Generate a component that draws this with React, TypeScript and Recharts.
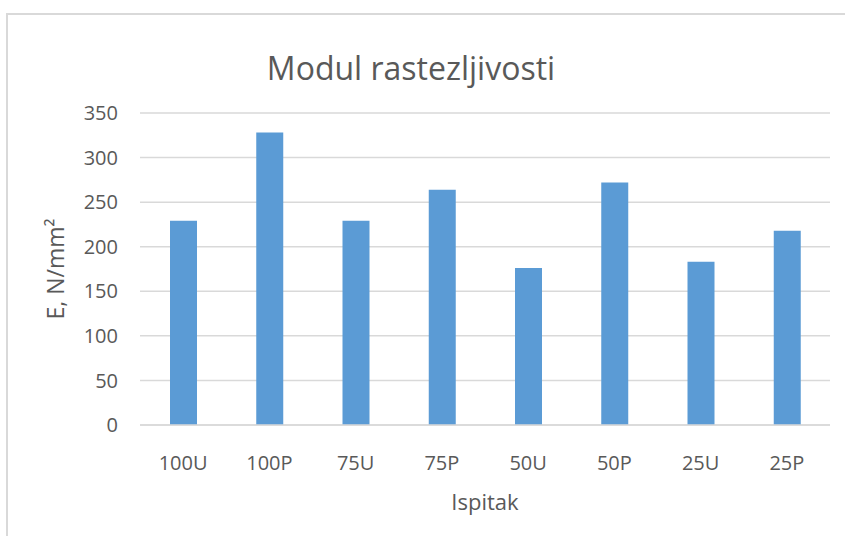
import React from 'react';
import { BarChart, Bar, XAxis, YAxis, CartesianGrid } from 'recharts';

const samples = ['100U', '100P', '75U', '75P', '50U', '50P', '25U', '25P'];
const modulus = [229, 328, 229, 264, 176, 272, 183, 218];
const yTicks = [0, 50, 100, 150, 200, 250, 300, 350];

const data = samples.map((name, i) => ({ name, E: modulus[i] }));

const FONT = '"Open Sans", sans-serif';
const GREY_TEXT = '#595959';
const GRID = '#d9d9d9';

const App: React.FC = () => {
  return (
    <div style={{ position: 'absolute', left: 0, top: 0, width: 845, height: 536, background: '#fff', overflow: 'hidden', fontFamily: FONT }}>
      {/* chart frame: only left and top edges are visible in the crop */}
      <div
        style={{
          position: 'absolute',
          left: 6,
          top: 13,
          width: 839,
          height: 523,
          borderLeft: `2px solid ${GRID}`,
          borderTop: `2px solid ${GRID}`,
          boxSizing: 'border-box',
        }}
      />
      <div
        style={{
          position: 'absolute',
          left: 0,
          width: 822,
          top: 46,
          textAlign: 'center',
          fontSize: 32,
          lineHeight: '44px',
          color: GREY_TEXT,
        }}
      >
        Modul rastezljivosti
      </div>
      <BarChart
        width={845}
        height={536}
        data={data}
        margin={{ top: 113, right: 15, left: 0, bottom: 0 }}
        style={{ position: 'absolute', left: 0, top: 0 }}
      >
        <CartesianGrid vertical={false} stroke={GRID} strokeWidth={1.5} />
        <XAxis
          dataKey="name"
          height={111}
          tickLine={false}
          axisLine={{ stroke: GRID, strokeWidth: 1.5 }}
          tickSize={0}
          tickMargin={31}
          tick={{ fill: GREY_TEXT, fontSize: 20, fontFamily: FONT }}
          label={{ value: 'Ispitak', position: 'insideBottom', offset: 26, fill: GREY_TEXT, fontSize: 22, fontFamily: FONT }}
        />
        <YAxis
          width={140}
          domain={[0, 350]}
          ticks={yTicks}
          interval={0}
          tickLine={false}
          axisLine={false}
          tickSize={0}
          tickMargin={22}
          tick={{ fill: GREY_TEXT, fontSize: 20, fontFamily: FONT }}
          label={{
            value: 'E, N/mm²',
            angle: -90,
            position: 'insideLeft',
            offset: 56,
            fill: GREY_TEXT,
            fontSize: 23,
            fontFamily: FONT,
            style: { textAnchor: 'middle' },
          }}
        />
        <Bar dataKey="E" fill="#5b9bd5" barSize={27} isAnimationActive={false} />
      </BarChart>
    </div>
  );
};

export default App;
